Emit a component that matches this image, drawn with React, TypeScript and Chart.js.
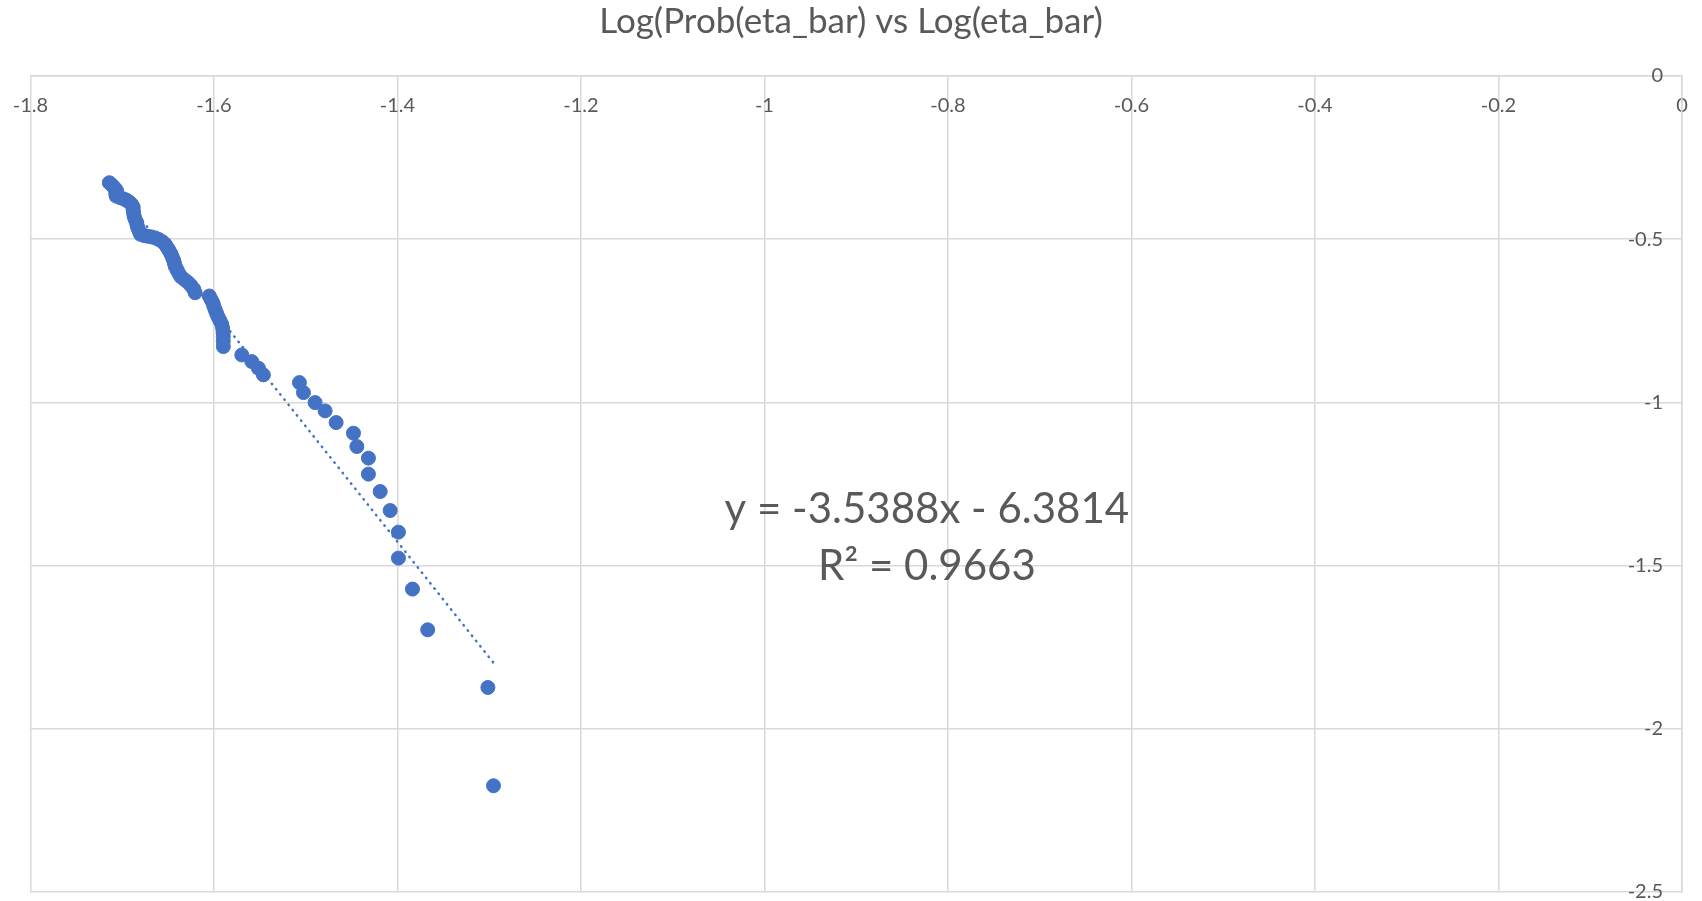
import React, { useEffect, useRef } from "react";
import { Chart, registerables } from "chart.js";

Chart.register(...registerables);

// log(eta_bar) values (x) and log(Prob(eta_bar)) values (y)
const xValues = [
  -1.7140, -1.7120, -1.7100, -1.7075, -1.7060, -1.7070, -1.7065, -1.7020, -1.6980, -1.6950,
  -1.6920, -1.6895, -1.6880, -1.6880, -1.6875, -1.6870, -1.6860, -1.6845, -1.6838, -1.6830,
  -1.6815, -1.6800, -1.6760, -1.6720, -1.6680, -1.6640, -1.6600, -1.6560, -1.6530, -1.6510,
  -1.6490, -1.6470, -1.6455, -1.6440, -1.6430, -1.6420, -1.6400, -1.6380, -1.6360, -1.6320,
  -1.6280, -1.6250, -1.6220, -1.6205, -1.6050, -1.6030, -1.6010, -1.6000, -1.5985, -1.5970,
  -1.5955, -1.5935, -1.5915, -1.5905, -1.5900, -1.5898, -1.5898, -1.5897, -1.5696, -1.5587,
  -1.5515, -1.5461, -1.5068, -1.5024, -1.4897, -1.4788, -1.4668, -1.4479, -1.4442, -1.4316,
  -1.4316, -1.4188, -1.4079, -1.3989, -1.3989, -1.3836, -1.3670, -1.3014, -1.2953,
];
const yValues = [
  -0.3270, -0.3320, -0.3380, -0.3450, -0.3520, -0.3600, -0.3680, -0.3730, -0.3770, -0.3810,
  -0.3870, -0.3940, -0.4020, -0.4110, -0.4200, -0.4290, -0.4380, -0.4470, -0.4560, -0.4650,
  -0.4750, -0.4850, -0.4890, -0.4910, -0.4930, -0.4960, -0.5010, -0.5080, -0.5160, -0.5250,
  -0.5340, -0.5440, -0.5540, -0.5640, -0.5740, -0.5840, -0.5950, -0.6060, -0.6150, -0.6240,
  -0.6330, -0.6420, -0.6530, -0.6640, -0.6740, -0.6850, -0.6960, -0.7060, -0.7170, -0.7280,
  -0.7380, -0.7490, -0.7600, -0.7720, -0.7850, -0.7980, -0.8120, -0.8290, -0.8545, -0.8750,
  -0.8952, -0.9157, -0.9393, -0.9699, -1.0006, -1.0260, -1.0618, -1.0943, -1.1353, -1.1708,
  -1.2198, -1.2731, -1.3313, -1.3975, -1.4771, -1.5720, -1.6967, -1.8734, -2.1744,
];

// Linear trendline shown on the chart
const trendSlope = -3.5388;
const trendIntercept = -6.3814;
const trendLabel = ["y = -3.5388x - 6.3814", "R\u00B2 = 0.9663"];

const titleText = "Log(Prob(eta_bar) vs Log(eta_bar)";

// axis ranges
const xMin = -1.8;
const xMax = 0;
const xStep = 0.2;
const yMin = -2.5;
const yMax = 0;
const yStep = 0.5;

const FONT = "Lato, 'Open Sans', sans-serif";
const BLUE = "#4472C4";
const GRID = "#D9D9D9";
const TEXT = "#595959";

const fmt = (v: number) => String(Number(Number(v).toFixed(4)));

const trendLabelPlugin = {
  id: "trendLabel",
  afterDatasetsDraw(chart: any) {
    const { ctx, scales } = chart;
    const cx = scales.x.getPixelForValue(-0.823);
    const b1 = scales.y.getPixelForValue(-1.3699);
    const b2 = scales.y.getPixelForValue(-1.5436);
    ctx.save();
    ctx.fillStyle = TEXT;
    ctx.font = `42px ${FONT}`;
    ctx.textAlign = "center";
    ctx.textBaseline = "alphabetic";
    ctx.fillText(trendLabel[0], cx, b1);
    ctx.fillText(trendLabel[1], cx, b2);
    ctx.restore();
  },
};

export default function App() {
  const ref = useRef<HTMLCanvasElement | null>(null);

  useEffect(() => {
    if (!ref.current) return;
    const points = xValues.map((x, i) => ({ x, y: yValues[i] }));
    const tx0 = Math.min(...xValues);
    const tx1 = Math.max(...xValues);
    const trend = [
      { x: tx0, y: trendSlope * tx0 + trendIntercept },
      { x: tx1, y: trendSlope * tx1 + trendIntercept },
    ];
    const chart = new Chart(ref.current, {
      type: "scatter",
      data: {
        datasets: [
          {
            type: "line",
            label: "Trend",
            data: trend,
            borderColor: BLUE,
            borderWidth: 2.5,
            borderDash: [0.5, 6.2],
            borderCapStyle: "round",
            pointRadius: 0,
            fill: false,
          } as any,
          {
            label: "Data",
            data: points,
            backgroundColor: BLUE,
            borderColor: BLUE,
            borderWidth: 1,
            pointRadius: 7,
          },
        ],
      },
      options: {
        animation: false,
        responsive: false,
        layout: { padding: { left: 0, right: 0, top: 0, bottom: 9 } },
        plugins: {
          legend: { display: false },
          tooltip: { enabled: false },
          title: {
            display: true,
            text: titleText,
            color: TEXT,
            font: { family: FONT, size: 35, weight: "normal" },
            padding: { top: 1, bottom: 33 },
          },
        },
        scales: {
          x: {
            type: "linear",
            position: { y: 0 } as any,
            min: xMin,
            max: xMax,
            afterFit: (s: any) => {
              s.height = 0;
              s.paddingLeft = 30.4;
              s.paddingRight = 0;
            },
            ticks: {
              stepSize: xStep,
              color: TEXT,
              padding: 18,
              font: { family: FONT, size: 20 },
              callback: (v: any) => fmt(v),
            },
            grid: { color: GRID, lineWidth: 1.5, drawTicks: false },
            border: { color: GRID, width: 1.5 },
          },
          y: {
            type: "linear",
            position: "right",
            min: yMin,
            max: yMax,
            afterFit: (s: any) => {
              s.width = 20;
              s.paddingTop = 0;
              s.paddingBottom = 0;
            },
            ticks: {
              stepSize: yStep,
              color: TEXT,
              mirror: true,
              padding: -19,
              font: { family: FONT, size: 20 },
              callback: (v: any) => fmt(v),
            },
            grid: { color: GRID, lineWidth: 1.5, drawTicks: false },
            border: { color: GRID, width: 1.5 },
          },
        },
      },
      plugins: [trendLabelPlugin],
    });
    return () => chart.destroy();
  }, []);

  return (
    <div style={{ position: "fixed", left: 0, top: 0, width: 1702, height: 901, background: "#fff" }}>
      <canvas ref={ref} width={1702} height={901} style={{ display: "block" }} />
    </div>
  );
}
